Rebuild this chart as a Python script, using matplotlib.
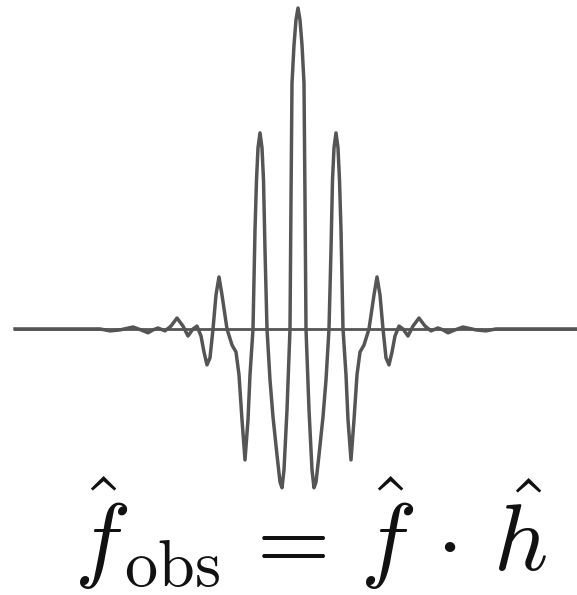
import numpy as np
import matplotlib
matplotlib.use("Agg")
import matplotlib.pyplot as plt

plt.rcParams['mathtext.fontset'] = 'cm'

# observed spectrum: sample position and amplitude (main lobe normalised to 1)
t = [-28.3, -19.8, -18.8, -17.8, -16.5, -15.7, -15.0, -14.5, -14.0, -13.3,
     -12.7, -12.1, -11.5, -11.0, -10.5, -10.1, -9.7, -9.4, -9.1, -8.8,
     -8.5, -8.2, -7.9, -7.6, -7.1, -6.6, -6.2, -5.9, -5.6, -5.3,
     -5.0, -4.8, -4.5, -4.3, -4.15, -4.0, -3.8, -3.6, -3.45, -3.3,
     -3.1, -2.8, -2.5, -2.1, -1.8, -1.6, -1.4, -1.1, -0.8, -0.7,
     -0.6, -0.4, -0.2,
     0.0,
     0.2, 0.4, 0.6, 0.7, 0.8, 1.1, 1.4, 1.6, 1.8, 2.1,
     2.5, 2.8, 3.1, 3.3, 3.45, 3.6, 3.8, 4.0, 4.15, 4.3,
     4.5, 4.8, 5.0, 5.3, 5.6, 5.9, 6.2, 6.6, 7.1, 7.6,
     7.9, 8.2, 8.5, 8.8, 9.1, 9.4, 9.7, 10.1, 10.5, 11.0,
     11.5, 12.1, 12.7, 13.3, 14.0, 14.5, 15.0, 15.7, 16.5, 17.8,
     18.8, 19.8, 27.9]
amp = [0.000, 0.000, -0.006, -0.003, 0.006, -0.003, -0.012, -0.003, 0.003, -0.006,
       0.009, 0.034, 0.009, -0.022, 0.000, 0.009, -0.022, -0.072, -0.112, -0.090,
       0.000, 0.106, 0.162, 0.106, 0.000, -0.050, -0.072, -0.143, -0.283, -0.408,
       -0.283, -0.143, 0.000, 0.308, 0.464, 0.564, 0.611, 0.564, 0.464, 0.246,
       0.000, -0.159, -0.274, -0.393, -0.477, -0.495, -0.439, -0.252, 0.000, 0.402,
       0.766, 0.885, 0.963,
       1.000,
       0.963, 0.885, 0.766, 0.402, 0.000, -0.252, -0.439, -0.495, -0.477, -0.393,
       -0.274, -0.159, 0.000, 0.246, 0.464, 0.564, 0.611, 0.564, 0.464, 0.308,
       0.000, -0.143, -0.283, -0.408, -0.283, -0.143, -0.072, -0.050, 0.000, 0.106,
       0.162, 0.106, 0.000, -0.090, -0.112, -0.072, -0.022, 0.009, 0.000, -0.022,
       0.009, 0.034, 0.009, -0.006, 0.003, -0.003, -0.012, -0.003, 0.006, -0.003,
       -0.006, 0.000, 0.000]

formula = r'$\hat{f}_{\mathrm{obs}}\,=\,\hat{f}\,\cdot\,\hat{h}$'

fig = plt.figure(figsize=(5.77, 5.95), dpi=100)
ax = fig.add_axes([0, 0, 1, 1])
ax.plot(t, amp, color='#555555', lw=2.5, solid_joinstyle='round')
ax.axhline(0, xmin=0.026, xmax=1.0, color='#555555', lw=2.0)
ax.set_xlim(-29.8, 27.9)
ax.set_ylim(-0.829, 1.025)
ax.axis('off')

fig.text(0.539, 0.041, formula, fontsize=68, ha='center', va='baseline',
         color='#111111')

fig.savefig('out.png', dpi=100)
